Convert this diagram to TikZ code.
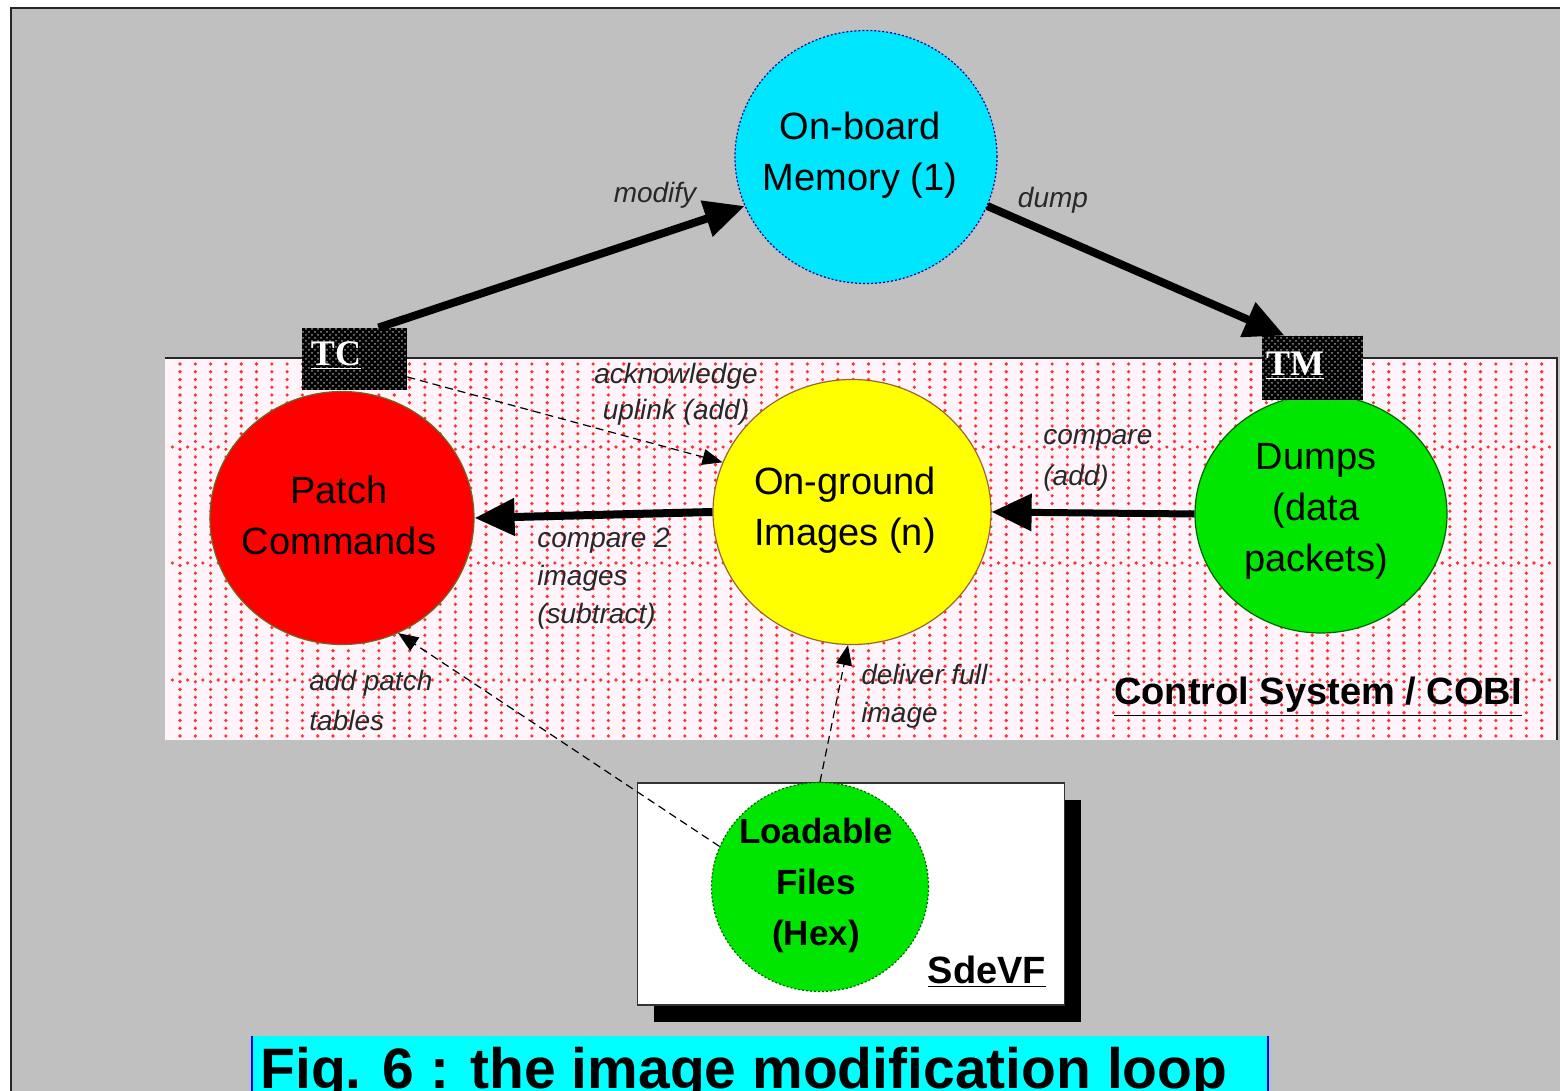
\documentclass[tikz,border=0pt]{standalone}
\usepackage{fontspec}
\setmainfont{Liberation Sans}
\newfontfamily\tagfont{Liberation Serif}
\usetikzlibrary{shapes.geometric,arrows.meta,patterns,calc}
\definecolor{bggray}{RGB}{192,192,192}
\definecolor{pinkbg}{RGB}{255,244,250}
\definecolor{dotred}{RGB}{250,50,50}
\definecolor{memcyan}{RGB}{0,230,255}
\definecolor{capcyan}{RGB}{0,255,255}
\definecolor{patchred}{RGB}{255,0,0}
\definecolor{imgyellow}{RGB}{255,255,0}
\definecolor{dumpgreen}{RGB}{0,230,0}
\definecolor{lblgray}{RGB}{40,40,40}
\begin{document}
\begin{tikzpicture}[x=0.5pt,y=-0.5pt,
  blob/.style={ellipse, inner sep=0pt, line width=0.6pt},
  ctext/.style={font=\fontsize{19}{25.5}\selectfont, align=center, inner sep=0pt},
  lbl/.style={font=\itshape\fontsize{14}{19}\selectfont, align=left, text=lblgray, inner sep=0pt},
  tagbox/.style={rectangle, inner sep=0pt},
  tagtext/.style={font=\tagfont\bfseries\fontsize{18}{18}\selectfont, text=white, inner sep=0pt},
  bigarrow/.style={line width=4pt, -{Triangle[length=20pt,width=18pt]}},
  dasharrow/.style={line width=0.6pt, dash pattern=on 4pt off 2.5pt, -{Triangle[length=10pt,width=8pt]}},
  boldlbl/.style={font=\bfseries\fontsize{19}{20}\selectfont, inner sep=0pt}
]
\useasboundingbox (0,0) rectangle (1560,1091);
\clip (0,0) rectangle (1560,1091);
% background
\fill[white] (0,0) rectangle (1560,1091);
\fill[bggray] (11,8) rectangle (1560,1091);
\draw[line width=1.2pt, black!85] (11,1091) -- (11,8) -- (1560,8);
% pink control-system area
\fill[pinkbg] (165,358) rectangle (1557,740);
\begin{scope}
  \clip (165,358) rectangle (1557,740);
  \foreach \i in {0,...,89} {
    \fill[dotred] \foreach \j in {0,...,48} { ({180+15.3*\i},{364+7.75*\j}) circle[radius=0.9pt] };
  }
  \foreach \yy in {447,563,680} {
    \fill[dotred] \foreach \i in {0,...,90} { ({172.3+15.3*\i},\yy) circle[radius=0.9pt] };
  }
\end{scope}
\draw[line width=1pt, black!85] (165,358) -- (1557,358) -- (1557,740);
% SdeVF box
\fill[black] (654,800) rectangle (1081,1022);
\node[rectangle, draw=black!80, fill=white, line width=0.8pt, minimum width=213.5pt, minimum height=111pt, inner sep=0pt] (sdevf) at (851,894) {};
\node[boldlbl] (sdevflbl) at (987,972) {\underline{SdeVF}};
% circles
\node[blob, fill=memcyan, draw=blue!60!black, dash pattern=on 1pt off 1pt, minimum width=131pt, minimum height=126.5pt] (mem) at (866,157) {};
\node[ctext] (memt) at (860,155) {On-board\\Memory (1)};
\node[blob, fill=patchred, draw=olive!70!black, minimum width=132pt, minimum height=126.5pt] (patch) at (342,518) {};
\node[ctext] (patcht) at (339,515) {Patch\\Commands};
\node[blob, fill=imgyellow, draw=brown!80!black, minimum width=139pt, minimum height=132.5pt] (ong) at (852,512) {};
\node[ctext] (ongt) at (845,510) {On-ground\\Images (n)};
\node[blob, fill=dumpgreen, draw=green!40!black, minimum width=126pt, minimum height=119pt] (dumps) at (1321,514) {};
\node[ctext] (dumpst) at (1316,511) {Dumps\\(data\\packets)};
\node[blob, fill=dumpgreen, draw=green!40!black, dash pattern=on 1pt off 1pt, minimum width=108.5pt, minimum height=104.5pt] (lf) at (820,887) {};
\node[ctext, font=\bfseries\fontsize{17.5}{25.5}\selectfont] (lft) at (816,885) {Loadable\\Files\\(Hex)};
% TC / TM tags
\node[tagbox, minimum width=52.5pt, minimum height=31pt] (tc) at (354.5,359) {};
\fill[black] (tc.south west) rectangle (tc.north east);
\fill[pattern=crosshatch dots, pattern color=gray!85] (tc.south west) rectangle (tc.north east);
\node[tagtext] (tct) at (336,356) {\underline{TC}};
\node[tagbox, minimum width=50.5pt, minimum height=32pt] (tm) at (1312.5,368) {};
\fill[black] (tm.south west) rectangle (tm.north east);
\fill[pattern=crosshatch dots, pattern color=gray!85] (tm.south west) rectangle (tm.north east);
\node[tagtext] (tmt) at (1295,366) {\underline{TM}};
% thick arrows
\draw[bigarrow] ([xshift=12pt]tc.north) -- (mem.202);
\draw[bigarrow] (mem.338) -- ([xshift=-14pt]tm.north);
\draw[bigarrow] (ong.west) -- (patch.east);
\draw[bigarrow, line width=3.5pt] (dumps.west) -- (ong.east);
% dashed arrows
\draw[dasharrow] ([yshift=-9pt]tc.east) -- (ong.159);
\draw[dasharrow] (lf.158) -- (patch.296);
\draw[dasharrow] (lf.north) -- ([xshift=-2pt]ong.south);
% labels
\node[lbl] (lmod) at (655,195) {modify};
\node[lbl] (ldump) at (1053,200) {dump};
\node[lbl, align=center, font=\itshape\fontsize{14}{18}\selectfont] (lack) at (676,394) {acknowledge\\uplink (add)};
\node[lbl, anchor=west, font=\itshape\fontsize{14}{20.5}\selectfont] (lcmp) at (1043,460) {compare\\(add)};
\node[lbl, anchor=west] (lcmp2) at (537,579) {compare 2\\images\\(subtract)};
\node[lbl, anchor=west, font=\itshape\fontsize{14}{20}\selectfont] (ladd) at (309,700) {add patch\\tables};
\node[lbl, anchor=west] (ldel) at (861,696) {deliver full\\image};
\node[boldlbl] (cslbl) at (1318,697) {\underline{Control System / COBI}};
% caption
\fill[capcyan] (252,1036) rectangle (1268,1091);
\draw[blue, line width=0.8pt] (252,1036) -- (252,1091);
\draw[blue, line width=0.8pt] (1268,1036) -- (1268,1091);
\node[font=\bfseries\fontsize{28.5}{30}\selectfont, anchor=base west, inner sep=0pt] (cap) at (260,1088) {Fig. 6 : the image modification loop};
\end{tikzpicture}
\end{document}
